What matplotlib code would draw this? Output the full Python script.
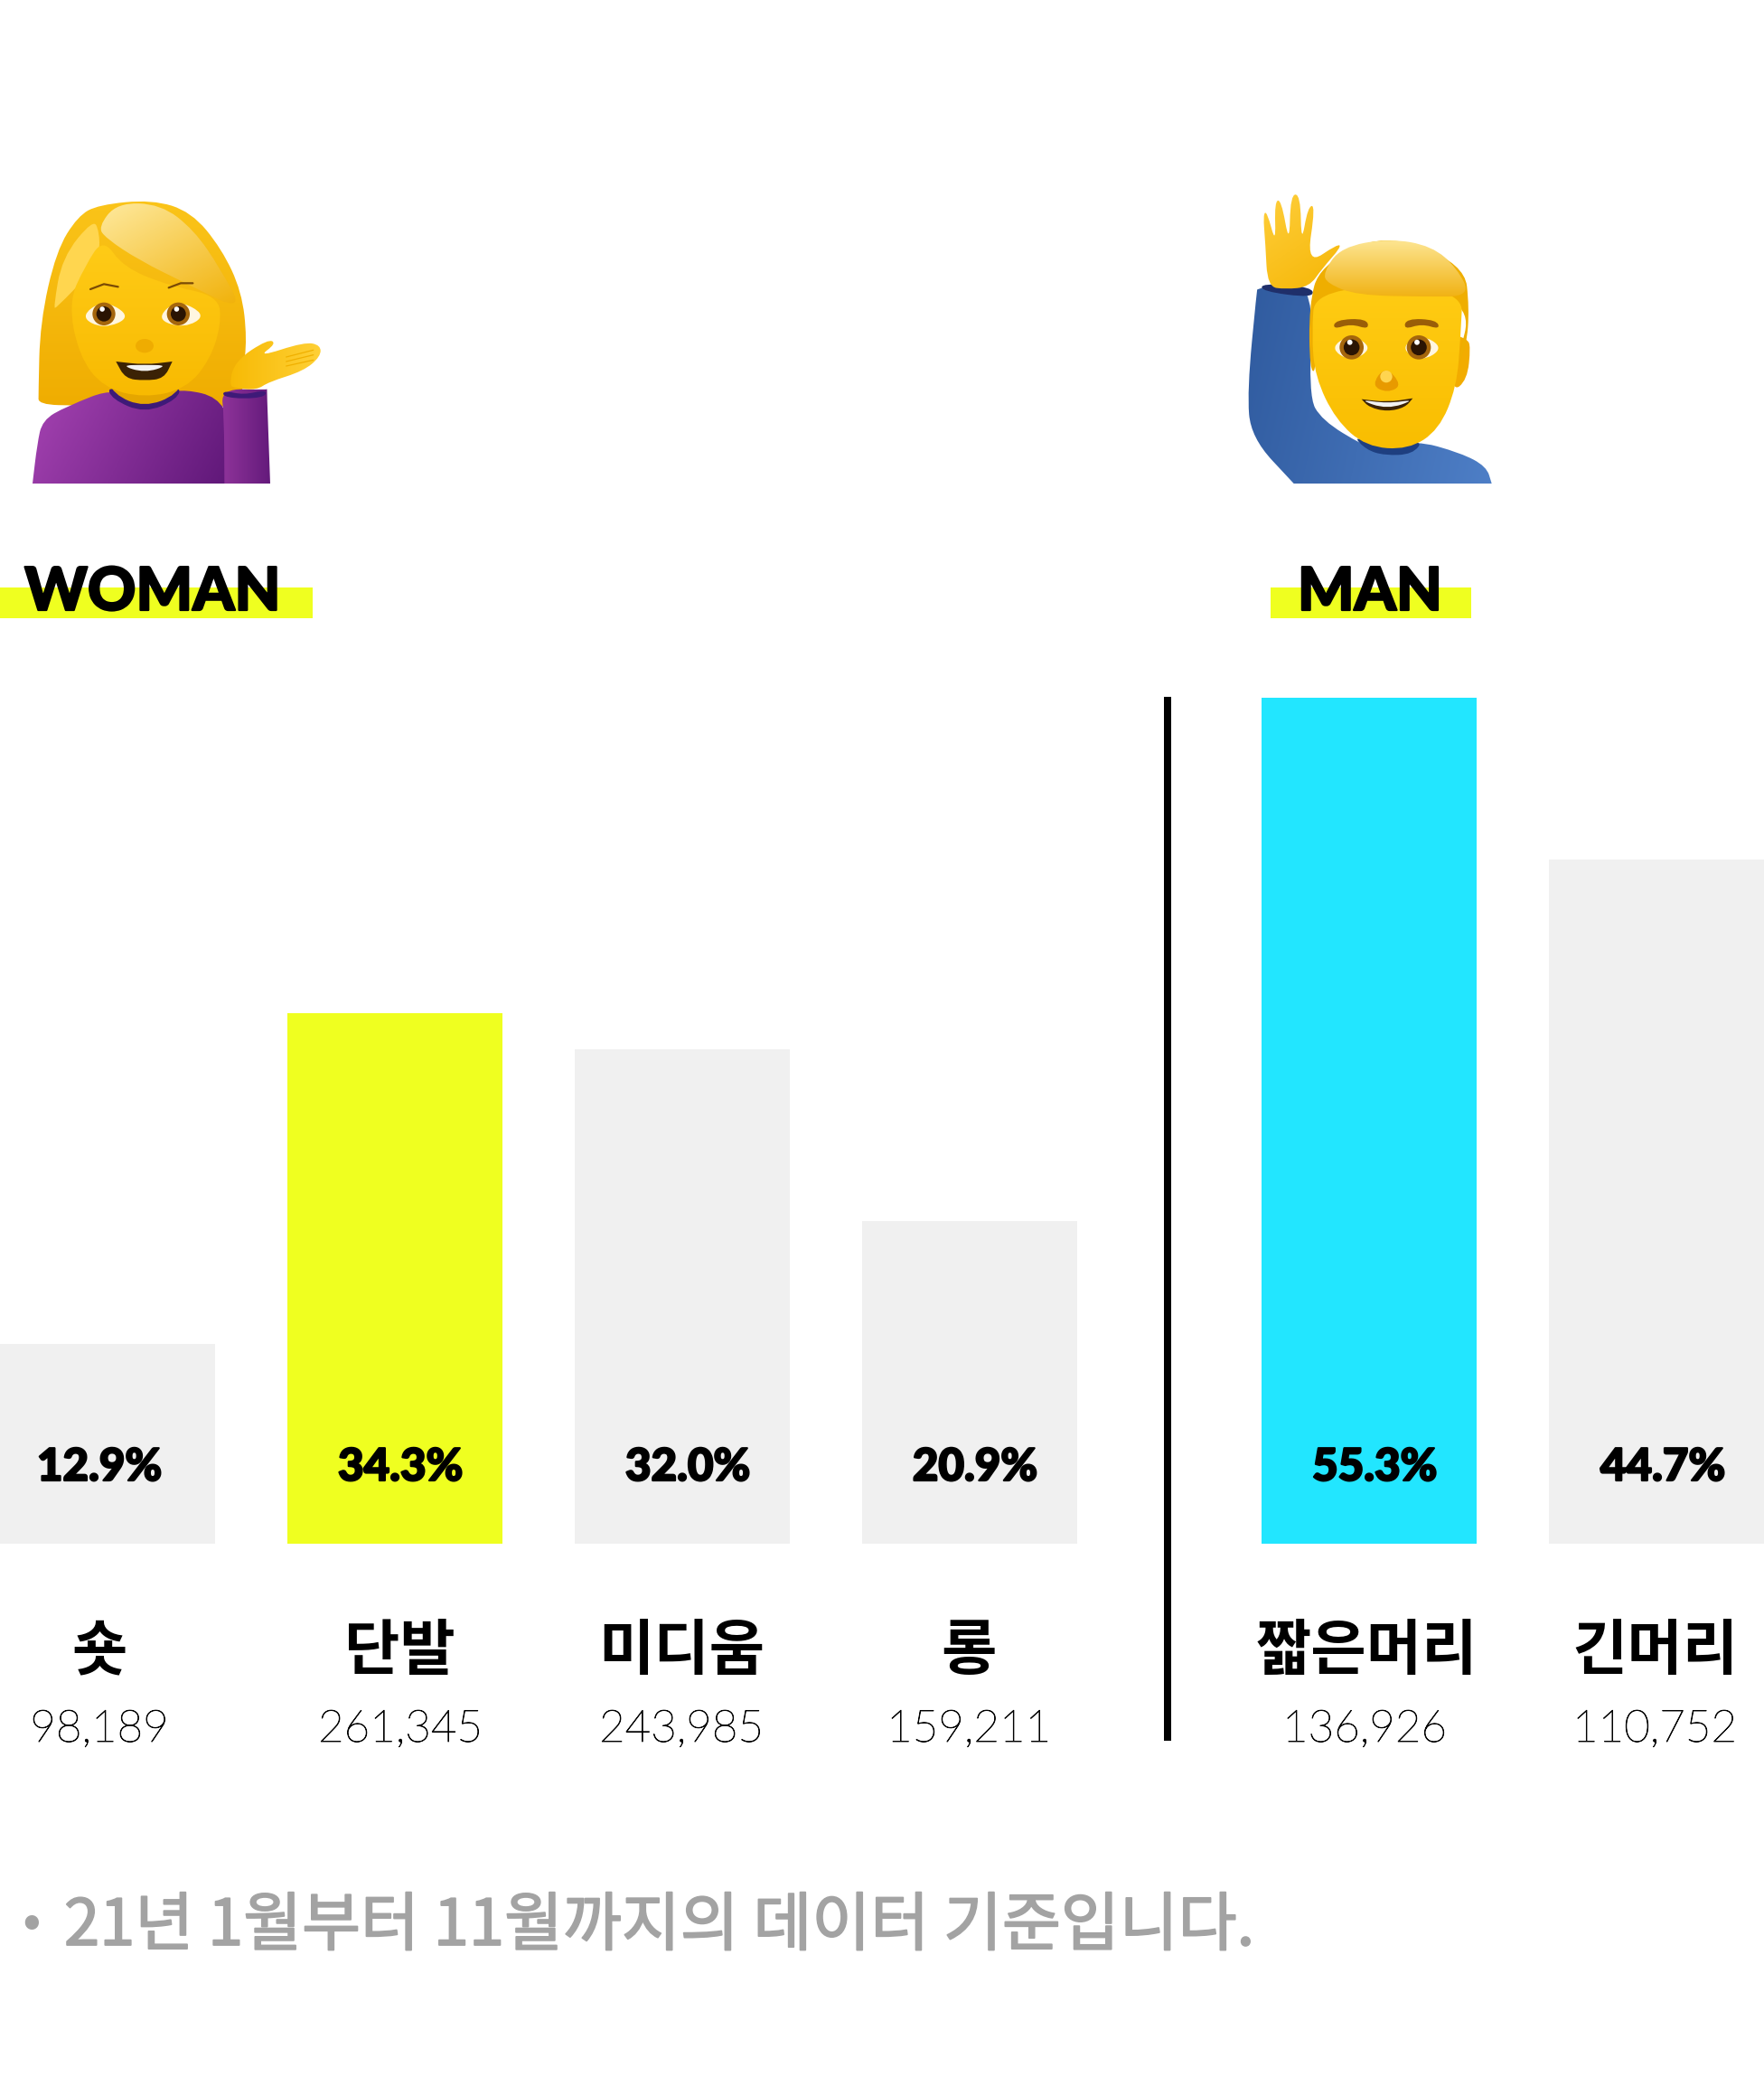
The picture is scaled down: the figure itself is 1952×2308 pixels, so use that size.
import numpy as np
import matplotlib
matplotlib.use("Agg")
import matplotlib.pyplot as plt
import matplotlib.patheffects as pe
from matplotlib.patches import Circle, Ellipse, PathPatch, Rectangle
from matplotlib.path import Path
from matplotlib.colors import LinearSegmentedColormap

WIDTH = 1952
HEIGHT = 2308
DPI = 100

WOMAN_LABELS = ["숏", "단발", "미디움", "롱"]
WOMAN_COUNTS = ["98,189", "261,345", "243,985", "159,211"]
WOMAN_PCT = [12.9, 34.3, 32.0, 20.9]

MAN_LABELS = ["짧은머리", "긴머리"]
MAN_COUNTS = ["136,926", "110,752"]
MAN_PCT = [55.3, 44.7]

FOOTNOTE = "21년 1월부터 11월까지의 데이터 기준입니다."

YELLOW = "#EFFF20"
CYAN = "#22E6FF"
GREY = "#F0F0F0"
NOTE_GREY = "#A3A3A3"

BASELINE = 1708
BAR_W = 238
PITCH = 318
# how many px one percent takes
WOMAN_SCALE = 17.1
MAN_SCALE = 16.93

KR = ["Noto Sans CJK KR", "DejaVu Sans"]
LATIN = ["Lato", "DejaVu Sans"]

fig = plt.figure(figsize=(WIDTH / DPI, HEIGHT / DPI), dpi=DPI, facecolor="white")


def px_axes(left, right, scale):
    # axes whose bottom sits on the bar baseline and whose y unit is percent
    ax = fig.add_axes([left / WIDTH, 1 - BASELINE / HEIGHT, (right - left) / WIDTH, BASELINE / HEIGHT])
    ax.set_xlim(left, right)
    ax.set_ylim(0, BASELINE / scale)
    ax.axis("off")
    ax.patch.set_alpha(0)
    return ax


def smooth(points):
    pts = np.array(points, dtype=float)
    prev = np.roll(pts, 1, axis=0)
    nxt = np.roll(pts, -1, axis=0)
    # push control points out so the curve passes close to the traced points
    ctrl = (8 * pts - prev - nxt) / 6
    dup = np.all(pts == prev, axis=1) | np.all(pts == nxt, axis=1)
    ctrl[dup] = pts[dup]
    mids = (ctrl + np.roll(ctrl, -1, axis=0)) / 2
    verts = [mids[-1]]
    codes = [Path.MOVETO]
    for p, m in zip(ctrl, mids):
        verts += [p, m]
        codes += [Path.CURVE3, Path.CURVE3]
    return Path(verts, codes)


cv = fig.add_axes([0, 0, 1, 1], zorder=5)
cv.set_xlim(0, WIDTH)
cv.set_ylim(HEIGHT, 0)
cv.axis("off")
cv.patch.set_alpha(0)
cv.set_autoscale_on(False)


class Emoji:
    # outlines are traced in crop units, 3 units to a pixel
    def __init__(self, x0, y0):
        self.x0, self.y0 = x0, y0

    def pts(self, points):
        return [(self.x0 + x / 3, self.y0 + y / 3) for x, y in points]

    def blob(self, points, color, z=6):
        cv.add_patch(PathPatch(smooth(self.pts(points)), fc=color, ec="none", zorder=z))

    def grad(self, points, c1, c2, angle=0, z=6):
        pts = self.pts(points)
        patch = PathPatch(smooth(pts), fc="none", ec="none", zorder=z)
        cv.add_patch(patch)
        xs = [p[0] for p in pts]
        ys = [p[1] for p in pts]
        yy, xx = np.mgrid[0:1:64j, 0:1:64j]
        g = np.cos(np.radians(angle)) * xx + np.sin(np.radians(angle)) * yy
        cmap = LinearSegmentedColormap.from_list("g", [c1, c2])
        pad = 12
        im = cv.imshow(g, extent=(min(xs) - pad, max(xs) + pad, max(ys) + pad, min(ys) - pad), cmap=cmap,
                       aspect="auto", zorder=z, interpolation="bilinear")
        im.set_clip_path(patch)

    def circ(self, x, y, r, color, z=7):
        cv.add_patch(Circle((self.x0 + x / 3, self.y0 + y / 3), r / 3, fc=color, ec="none", zorder=z))

    def ell(self, x, y, w, h, color, z=7, alpha=1.0):
        cv.add_patch(Ellipse((self.x0 + x / 3, self.y0 + y / 3), w / 3, h / 3, fc=color, ec="none",
                             zorder=z, alpha=alpha))

    def eye(self, white, cx, cy, r):
        self.blob(white, "#FFF6E0", 7)
        self.circ(cx, cy, r, "#A5660C", 8)
        self.circ(cx, cy, r * 0.66, "#2A1403", 9)
        self.circ(cx - r * 0.15, cy - r * 0.42, r * 0.22, "white", 10)

    def stroke(self, points, color, lw, z=8):
        pts = self.pts(points)
        cv.plot([p[0] for p in pts], [p[1] for p in pts], color=color, lw=lw,
                solid_capstyle="round", zorder=z)


def draw_woman():
    e = Emoji(0, 200)
    # hair back
    e.grad([(340, 85), (500, 72), (630, 115), (730, 230), (795, 370), (815, 520), (805, 640), (790, 745),
            (700, 745), (300, 745), (150, 735), (132, 680), (140, 470), (190, 250), (260, 130)],
           "#FBC51A", "#EFAC00", 90)
    e.blob([(185, 400), (215, 260), (300, 150), (325, 175), (325, 240), (290, 310), (200, 405)], "#FFD64F", 6.2)
    # sweater and sleeve
    e.grad([(108, 1005), (108, 1005), (125, 880), (150, 800), (230, 750), (380, 700), (480, 750), (580, 700),
            (745, 760), (760, 1005), (760, 1005)], "#A945B5", "#5B1575", 15, 6.4)
    e.grad([(745, 1005), (745, 1005), (745, 800), (752, 705), (870, 700), (885, 730), (897, 1005), (897, 1005)],
           "#96389F", "#5B1575", 0, 6.6)
    e.blob([(375, 690), (480, 725), (582, 690), (575, 725), (480, 760), (385, 725)], "#3E1A78", 6.5)
    # neck, face
    e.blob([(380, 640), (585, 640), (575, 705), (480, 740), (390, 705)], "#E5A600", 6.6)
    e.grad([(240, 410), (285, 290), (345, 215), (420, 285), (560, 345), (705, 390), (725, 480), (690, 590),
            (610, 680), (480, 710), (350, 675), (270, 570)], "#FFCC18", "#F8B900", 90, 6.8)
    # fringe
    e.grad([(340, 150), (400, 85), (530, 90), (640, 170), (725, 290), (775, 405), (620, 340), (470, 265), (365, 195)],
           "#FFEDA8", "#F0AE00", 55, 7)
    # eyes, brows
    e.eye([(285, 450), (345, 408), (415, 450), (345, 482)], 345, 442, 38)
    e.eye([(538, 456), (590, 408), (665, 445), (610, 480)], 592, 442, 38)
    e.stroke([(300, 360), (345, 343), (392, 352)], "#7A4A05", 1.6)
    e.stroke([(560, 355), (600, 340), (640, 340)], "#7A4A05", 1.6)
    e.ell(480, 548, 60, 46, "#EDA800", 7.2, 0.8)
    # mouth
    e.blob([(385, 600), (385, 600), (480, 608), (572, 600), (572, 600), (540, 650), (480, 660), (420, 650)], "#3B2205", 7.4)
    e.blob([(420, 615), (480, 612), (540, 615), (480, 632)], "#F2F2F2", 7.6)
    # hand and cuff
    e.blob([(752, 700), (810, 708), (872, 698), (872, 715), (810, 722), (750, 715)], "#3E1A78", 7)
    e.grad([(768, 670), (790, 600), (880, 537), (908, 544), (880, 575), (1000, 542), (1055, 550), (1055, 585),
            (1000, 630), (900, 666), (850, 690), (788, 686)], "#F7B800", "#FFD23A", 0, 7.2)
    for y0, y1 in [(585, 562), (600, 578), (615, 595)]:
        e.stroke([(950, y0), (1040, y1)], "#F0B000", 0.9, 7.4)


def draw_man():
    e = Emoji(1340, 200)
    e.grad([(275, 1005), (275, 1005), (150, 850), (128, 680), (152, 405), (175, 365), (320, 370), (330, 680),
            (380, 790), (500, 870), (580, 895), (680, 870), (820, 905), (905, 950), (932, 1005), (932, 1005)],
           "#2F5A9E", "#4F80C8", 10)
    e.blob([(190, 345), (316, 355), (318, 382), (190, 366)], "#1F2F6A", 6.2)
    e.blob([(490, 855), (580, 885), (685, 868), (660, 903), (580, 908), (520, 890)], "#1E3F80", 6.3)
    # fingers and palm
    e.grad([(195, 335), (182, 215), (176, 125), (188, 115), (212, 185), (214, 85), (234, 80), (258, 180),
            (267, 65), (294, 65), (302, 180), (322, 100), (342, 105), (332, 250), (410, 217), (422, 228),
            (370, 290), (322, 345), (250, 355)], "#FFD040", "#F5B400", 60, 6.4)
    # hair behind head, ears
    e.blob([(845, 530), (858, 560), (846, 650), (805, 675), (800, 530)], "#F2AC00", 6.5)
    e.blob([(332, 600), (334, 420), (385, 290), (580, 200), (810, 285), (850, 420), (844, 540), (812, 600),
            (810, 400), (400, 400), (355, 600)], "#EFAE00", 6.5)
    # head
    e.grad([(345, 510), (400, 375), (780, 375), (820, 520), (808, 680), (750, 815), (650, 880), (520, 870),
            (420, 785), (355, 650)], "#FFCC14", "#F9BD00", 90, 6.6)
    e.grad([(385, 300), (445, 228), (590, 200), (725, 224), (808, 292), (836, 372), (700, 382), (500, 375), (400, 340)],
           "#FFEEA8", "#EFAA00", 90, 6.8)
    e.blob([(415, 488), (425, 465), (505, 462), (515, 488), (465, 478)], "#9A5E08", 7)
    e.blob([(650, 488), (660, 462), (738, 465), (750, 488), (700, 478)], "#9A5E08", 7)
    e.eye([(412, 555), (465, 520), (520, 555), (465, 590)], 467, 553, 40)
    e.eye([(646, 555), (698, 520), (755, 555), (698, 590)], 690, 553, 40)
    e.blob([(545, 675), (580, 630), (622, 675), (585, 697)], "#E89A00", 7.1)
    e.ell(582, 650, 40, 40, "#FFD550", 7.2)
    e.blob([(500, 725), (500, 725), (585, 732), (670, 722), (670, 722), (640, 750), (585, 762), (530, 750)], "#3B2205", 7.4)
    e.blob([(512, 730), (585, 737), (658, 730), (585, 752)], "#F2F2F2", 7.6)


# bars
woman_ax = px_axes(0, 1192, WOMAN_SCALE)
woman_x = [i * PITCH for i in range(len(WOMAN_PCT))]
woman_colors = [GREY, YELLOW, GREY, GREY]
woman_ax.bar(woman_x, WOMAN_PCT, width=BAR_W, align="edge", color=woman_colors)

man_ax = px_axes(1396, WIDTH, MAN_SCALE)
man_x = [1396 + i * PITCH for i in range(len(MAN_PCT))]
man_ax.bar(man_x, MAN_PCT, width=BAR_W, align="edge", color=[CYAN, GREY])

# divider
cv.add_patch(Rectangle((1288, 771), 8, 1155, fc="black", ec="none", zorder=3))

heavy = [pe.withStroke(linewidth=1.6, foreground="black")]
firm = [pe.withStroke(linewidth=0.6, foreground="black")]
note_firm = [pe.withStroke(linewidth=1.3, foreground=NOTE_GREY)]

# group titles
cv.add_patch(Rectangle((0, 650), 346, 34, fc=YELLOW, ec="none", zorder=3))
cv.add_patch(Rectangle((1406, 650), 222, 34, fc=YELLOW, ec="none", zorder=3))
cv.text(169, 675, "WOMAN", ha="center", va="baseline", fontsize=47.5, family=LATIN, weight="black", zorder=4,
        path_effects=heavy)
cv.text(1516, 675, "MAN", ha="center", va="baseline", fontsize=47.5, family=LATIN, weight="black", zorder=4,
        path_effects=heavy)

# labels under and inside the bars
pct_centers = [110, 443, 761, 1079, 1521, 1840]
name_centers = [110, 442, 754, 1072, 1512, 1831]
count_centers = [110, 443, 754, 1072, 1510, 1831]
all_pct = WOMAN_PCT + MAN_PCT
all_names = WOMAN_LABELS + MAN_LABELS
all_counts = WOMAN_COUNTS + MAN_COUNTS
for i in range(len(all_pct)):
    cv.text(pct_centers[i], 1638, "%.1f%%" % all_pct[i], ha="center", va="baseline", fontsize=35.5,
            family=LATIN, weight="black", zorder=4, path_effects=heavy)
    cv.text(name_centers[i], 1847, all_names[i], ha="center", va="baseline", fontsize=48,
            family=KR, weight="bold", zorder=4)
    cv.text(count_centers[i], 1927, all_counts[i], ha="center", va="baseline", fontsize=35.5,
            family=LATIN, weight="light", zorder=4, path_effects=firm)

# footnote
cv.text(35, 2128, "•", ha="center", va="center", fontsize=44, color=NOTE_GREY, family=KR)
cv.text(71, 2152, FOOTNOTE, ha="left", va="baseline", fontsize=50.8, color=NOTE_GREY, family=KR, weight="medium",
        path_effects=note_firm)

draw_woman()
draw_man()

fig.savefig("out.png", dpi=DPI, facecolor="white")
